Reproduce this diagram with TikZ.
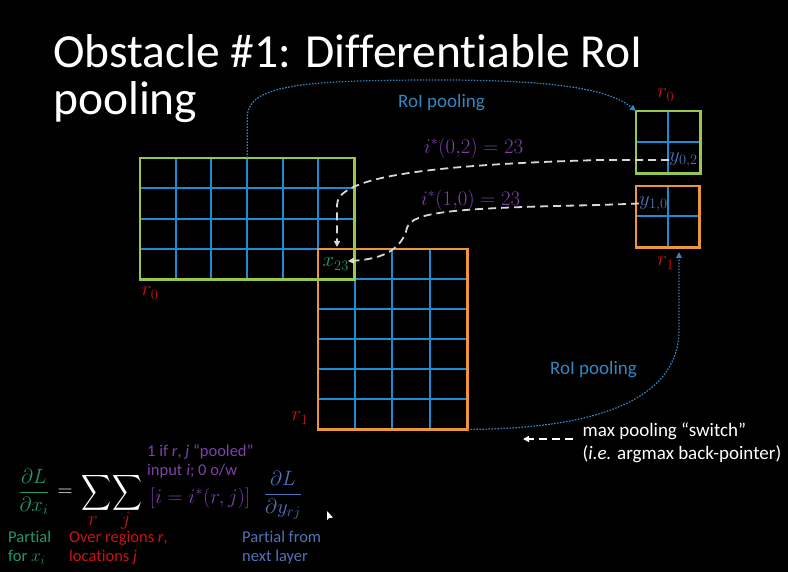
\documentclass[tikz,border=0pt]{standalone}
\usepackage{amsmath}
\usepackage{fontspec}
\setmainfont{Carlito}[Ligatures=NoCommon]
\usepackage{graphicx}
\usetikzlibrary{arrows.meta,calc}
\definecolor{gbord}{RGB}{150,200,80}
\definecolor{obord}{RGB}{235,150,60}
\definecolor{gridb}{RGB}{30,140,210}
\definecolor{roiblue}{RGB}{50,135,195}
\definecolor{purp}{RGB}{125,65,170}
\definecolor{tealc}{RGB}{30,155,105}
\definecolor{slate}{RGB}{80,115,185}
\definecolor{redc}{RGB}{200,20,20}
\definecolor{dashw}{RGB}{215,215,215}
\begin{document}
\begin{tikzpicture}[x=1pt,y=-1pt,
  grid/.style={draw=gridb, line width=1.8pt},
  gbox/.style={draw=gbord, line width=2.5pt},
  obox/.style={draw=obord, line width=2.5pt},
  boxnode/.style={inner sep=0pt, anchor=north west},
  roiarrow/.style={draw=roiblue, line width=1.2pt, dash pattern=on 1.6pt off 1.4pt, -{Triangle[length=6pt,width=5.5pt]}},
  wdash/.style={draw=dashw, line width=1.8pt, dash pattern=on 8pt off 5pt, -{Triangle[length=6pt,width=6pt]}},
  lbl/.style={inner sep=0pt},
  mathlbl/.style={lbl, font=\fontsize{20}{24}\selectfont},
  eqfont/.style={lbl, font=\fontsize{22.5}{27}\selectfont},
  notefont/.style={lbl, font=\fontsize{16.5}{19}\selectfont, align=left, anchor=west},
]
\fill[black] (0,0) rectangle (788,572);
\useasboundingbox (0,0) rectangle (788,572);

% box placeholders
\node[boxnode, minimum width=214pt, minimum height=121pt] (bigG) at (140,158) {};
\node[boxnode, minimum width=149pt, minimum height=180pt] (bigO) at (318,249) {};
\node[boxnode, minimum width=64pt, minimum height=62pt] (sg) at (636,111) {};
\node[boxnode, minimum width=63pt, minimum height=61pt] (so) at (636,186) {};

% grids
\foreach \x in {176,211,247,283,318} \draw[grid] (\x,158) -- (\x,279);
\foreach \y in {188,219,249} \draw[grid] (140,\y) -- (354,\y);
\foreach \x in {355,392,430} \draw[grid] (\x,249) -- (\x,429);
\foreach \y in {279,309,339,369,399} \draw[grid] (318,\y) -- (467,\y);
\draw[grid] (668,111) -- (668,173);
\draw[grid] (636,142) -- (700,142);
\draw[grid] (668,186) -- (668,247);
\draw[grid] (636,216) -- (699,216);

% borders
\draw[obox] (bigO.north west) rectangle (bigO.south east);
\draw[gbox] (bigG.north west) rectangle (bigG.south east);
\draw[gbox] (sg.north west) rectangle (sg.south east);
\draw[obox] (so.north west) rectangle (so.south east);

% title
\node[lbl, text=white, font=\fontsize{47.5}{47}\selectfont, anchor=base west] (title1) at (53,68) {Obstacle \#1: Differentiable RoI};
\node[lbl, text=white, font=\fontsize{47.5}{47}\selectfont, anchor=base west] (title2) at (53,115) {pooling};

% labels
\node[lbl, text=roiblue, font=\fontsize{19}{22}\selectfont] (roi1) at (441.5,103) {RoI pooling};
\node[lbl, text=roiblue, font=\fontsize{19}{22}\selectfont] (roi2) at (593.5,370) {RoI pooling};
\node[mathlbl, text=purp] (istar1) at (473.5,148) {$i^*(0{,}2)=23$};
\node[mathlbl, text=purp] (istar2) at (470.5,200) {$i^*(1{,}0)=23$};
\node[mathlbl, text=tealc, anchor=west] (x23) at (322.5,264) {$x_{23}$};
\node[mathlbl, text=slate, anchor=west] (y02) at (669,160) {$y_{0,2}$};
\node[mathlbl, text=slate, anchor=west] (y10) at (639,203.5) {$y_{1,0}$};
\node[mathlbl, text=redc] (r0a) at (150,293) {$r_0$};
\node[mathlbl, text=redc] (r1a) at (300,418) {$r_1$};
\node[mathlbl, text=redc] (r0b) at (665.7,95) {$r_0$};
\node[mathlbl, text=redc] (r1b) at (665.7,263) {$r_1$};

% coordinates for free ends
\coordinate (x23top) at (337,247);
\coordinate (x23side) at ($(x23.east)+(-1,-3)$);
\coordinate (roi2end) at (679,252);
\coordinate (legS) at (573,439);
\coordinate (legE) at (523,439);

% RoI pooling arrows
\draw[roiarrow] (bigG.north) -- ++(0,-40) .. controls +(0,-33) and (300,80) .. (440,80) .. controls (560,80) and (610,90) .. (sg.north west);
\draw[roiarrow] (bigO.south east) .. controls (600,429) and (679,398) .. (679,330) -- (roi2end);

% switch arrows
\draw[wdash] (y02.west) -- (600,160) .. controls (420,165) and (337,178) .. (337,205) -- (x23top);
\draw[wdash] (y10.west) -- (600,205) .. controls (450,208) and (412,212) .. (407,228) .. controls (402,248) and (385,259) .. (x23side);

% legend
\draw[wdash, draw=white] (legS) -- (legE);
\node[lbl, text=white, font=\fontsize{19}{23}\selectfont, align=left, anchor=west] (legT) at (582.5,442.5) {max pooling “switch”\\(\textit{i.e.} argmax back-pointer)};

% equation
\node[eqfont, text=tealc] (dLdx) at (34,492) {$\displaystyle\frac{\partial L}{\partial x_i}$};
\node[eqfont, text=white] (eqs) at (65,493) {$=$};
\node[eqfont, text=white] (sum1) at (96,493) {\scalebox{1}[1.2]{$\displaystyle\sum$}};
\node[eqfont, text=white] (sum2) at (127,493) {\scalebox{1}[1.2]{$\displaystyle\sum$}};
\node[mathlbl, text=redc] (sr) at (93,521) {$r$};
\node[mathlbl, text=redc] (sj) at (126,521) {$j$};
\node[eqfont, text=purp] (ind) at (200,498) {$[i=i^*(r,j)]$};
\node[eqfont, text=slate] (dLdy) at (283,495) {$\displaystyle\frac{\partial L}{\partial y_{rj}}$};
\node[notefont, text=purp] (note) at (147,461.5) {1 if \textit{r}, \textit{j} “pooled”\\input \textit{i}; 0 o/w};
\node[notefont, text=tealc] (c1) at (8,547.5) {Partial\\for $x_i$};
\node[notefont, text=redc] (c2) at (69,547.5) {Over regions \textit{r},\\locations \textit{j}};
\node[notefont, text=slate] (c3) at (242,547.5) {Partial from\\next layer};

% cursor
\fill[white] (327,511) -- (327,520) -- (329.3,518) -- (333,517.6) -- cycle;
\end{tikzpicture}
\end{document}
